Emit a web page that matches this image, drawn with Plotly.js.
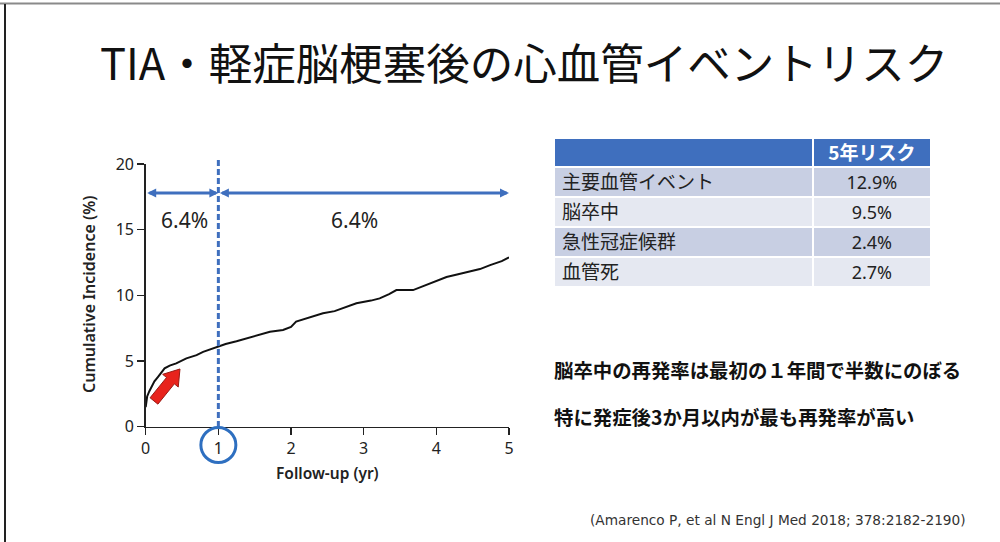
<!DOCTYPE html>
<html>
<head>
<meta charset="utf-8">
<script src="https://cdn.plot.ly/plotly-3.0.1.min.js"></script>
<style>html,body{margin:0;padding:0;background:#fff;}#chart{width:1000px;height:542px;}</style>
</head>
<body>
<div id="chart"></div>
<script>
// ---- data ----
const followUpYears = [0, 0.005, 0.02, 0.05, 0.08, 0.12, 0.17, 0.22, 0.26, 0.33, 0.42, 0.56, 0.7, 0.79, 0.9, 0.98, 1.1, 1.25, 1.4, 1.53, 1.71, 1.89, 2.0, 2.07, 2.25, 2.44, 2.6, 2.71, 2.9, 3.1, 3.22, 3.35, 3.45, 3.68, 3.8, 3.91, 4.14, 4.3, 4.46, 4.6, 4.74, 4.9, 5.0];
const cumulativeIncidence = [1.5, 1.9, 2.3, 2.7, 3.04, 3.45, 3.8, 4.15, 4.44, 4.65, 4.82, 5.2, 5.45, 5.7, 5.9, 6.09, 6.3, 6.5, 6.75, 6.98, 7.23, 7.36, 7.6, 8.0, 8.3, 8.63, 8.8, 9.0, 9.4, 9.6, 9.77, 10.1, 10.4, 10.4, 10.65, 10.9, 11.4, 11.6, 11.8, 12.0, 12.3, 12.6, 12.9];
const xTickVals = [0, 1, 2, 3, 4, 5];
const yTickVals = [0, 5, 10, 15, 20];
const periodBounds = [0, 1, 5];          // first year / years 1-5
const periodLabels = ["6.4%", "6.4%"];
const periodLabelX = [0.54, 2.88];
const periodLabelY = 15.7;
const periodArrowY = 17.8;
const highlightYear = 1;

const tableHeader = ["", "5年リスク"];
const tableEvents = ["主要血管イベント", "脳卒中", "急性冠症候群", "血管死"];
const tableRisk = ["12.9%", "9.5%", "2.4%", "2.7%"];

const titleText = "TIA・軽症脳梗塞後の心血管イベントリスク";
const yTitle = "Cumulative Incidence (%)";
const xTitle = "Follow-up (yr)";
const noteLines = ["脳卒中の再発率は最初の１年間で半数にのぼる", "特に発症後3か月以内が最も再発率が高い"];
const citation = "(Amarenco P, et al N Engl J Med 2018; 378:2182-2190)";

// ---- layout helpers (pixel -> paper, margins are 0) ----
const W = 1000, H = 542;
const px = v => v / W;
const py = v => 1 - v / H;
const BLUE = "#3f6fbe";
const JP = "'Noto Sans CJK JP', 'Noto Sans', sans-serif";
const LAT = "'Noto Sans', 'Open Sans', sans-serif";

const curve = {
  type: "scatter", mode: "lines",
  x: followUpYears, y: cumulativeIncidence,
  line: {color: "#111", width: 2},
  hoverinfo: "skip", showlegend: false, xaxis: "x", yaxis: "y"
};

const rowFill = tableEvents.map((_, i) => i % 2 === 0 ? "#c8cfe3" : "#e5e8f1");
const table = {
  type: "table",
  domain: {x: [px(554), px(931)], y: [py(289), py(138)]},
  columnwidth: [258, 118],
  header: {
    values: tableHeader,
    fill: {color: BLUE},
    line: {color: "#ffffff", width: 2},
    align: ["left", "center"],
    font: {family: JP, size: 19, color: "#ffffff", weight: "bold"},
    height: 29
  },
  cells: {
    values: [tableEvents, tableRisk],
    fill: {color: [rowFill, rowFill]},
    line: {color: "#ffffff", width: 2},
    align: ["left", "center"],
    font: {family: [JP, LAT], size: [19, 18], color: "#222"},
    height: 30
  }
};

const annotations = [
  {text: titleText, xref: "paper", yref: "paper", x: px(524), y: py(61), xanchor: "center", yanchor: "middle",
   showarrow: false, font: {family: JP, size: 43.5, color: "#111"}},
  {text: yTitle, xref: "paper", yref: "paper", x: px(89), y: py(295), textangle: -90, xanchor: "center", yanchor: "middle",
   showarrow: false, font: {family: LAT, size: 16, color: "#222", weight: 600}},
  {text: xTitle, xref: "paper", yref: "paper", x: px(327), y: py(473), xanchor: "center", yanchor: "middle",
   showarrow: false, font: {family: LAT, size: 15.5, color: "#222", weight: 600}},
  {text: noteLines[0], xref: "paper", yref: "paper", x: px(552), y: py(369), xanchor: "left", yanchor: "middle",
   showarrow: false, font: {family: JP, size: 19.4, color: "#111", weight: "bold"}},
  {text: noteLines[1], xref: "paper", yref: "paper", x: px(552), y: py(416), xanchor: "left", yanchor: "middle",
   showarrow: false, font: {family: JP, size: 19.4, color: "#111", weight: "bold"}},
  {text: citation, xref: "paper", yref: "paper", x: px(588), y: py(520), xanchor: "left", yanchor: "middle",
   showarrow: false, font: {family: "'DejaVu Sans', sans-serif", size: 13.7, color: "#333"}}
];
periodLabels.forEach((t, i) => annotations.push({
  text: t, xref: "x", yref: "y", x: periodLabelX[i], y: periodLabelY, xanchor: "center", yanchor: "middle",
  showarrow: false, font: {family: LAT, size: 21, color: "#222"}
}));
for (let i = 0; i < periodBounds.length - 1; i++) {
  annotations.push({
    text: "", xref: "x", yref: "y", axref: "x", ayref: "y",
    x: periodBounds[i + 1], y: periodArrowY, ax: periodBounds[i], ay: periodArrowY,
    showarrow: true, arrowside: "end+start", arrowhead: 2, startarrowhead: 2,
    arrowsize: 0.6, startarrowsize: 0.6, arrowwidth: 3, arrowcolor: BLUE, standoff: 0, startstandoff: 0
  });
}

// red arrow pointing at the early rise (pixel path anchored at data point)
const redArrowAnchor = {x: 0.114, y: 1.96};
const shapes = [
  // slide frame
  {type: "line", xref: "paper", yref: "paper", x0: 0, x1: 1, y0: py(3.5), y1: py(3.5), line: {color: "#8a8a8a", width: 2}},
  {type: "line", xref: "paper", yref: "paper", x0: px(5), x1: px(5), y0: py(4), y1: 0, line: {color: "#222", width: 2}},
  // dashed 1-year line
  {type: "line", xref: "x", yref: "paper", x0: highlightYear, x1: highlightYear, y0: py(427), y1: py(159),
   line: {color: BLUE, width: 3, dash: "6px,3px"}},
  // circle around tick "1"
  {type: "circle", xref: "x", yref: "paper", xsizemode: "pixel", ysizemode: "pixel",
   xanchor: highlightYear, yanchor: py(445), x0: -17.5, x1: 17.5, y0: -17.5, y1: 17.5,
   line: {color: "#2e6fc0", width: 3}},
  // red arrow
  {type: "path", xref: "x", yref: "y", xsizemode: "pixel", ysizemode: "pixel",
   xanchor: redArrowAnchor.x, yanchor: redArrowAnchor.y,
   path: "M -3.9,3.17 L 12.58,23.45 L 8.68,26.62 L 25.99,31.98 L 24.28,13.94 L 20.38,17.11 L 3.9,-3.17 Z",
   fillcolor: "#e8231c", line: {color: "#9a1a14", width: 1}}
];

const layout = {
  width: W, height: H,
  margin: {l: 0, r: 0, t: 0, b: 0},
  paper_bgcolor: "#ffffff", plot_bgcolor: "rgba(0,0,0,0)",
  showlegend: false,
  xaxis: {domain: [px(145.7), px(509)], range: [0, 5], tickvals: xTickVals, showgrid: false, zeroline: false,
    showline: true, linecolor: "#222", linewidth: 1.5, ticks: "outside", ticklen: 7, tickwidth: 1.5, tickcolor: "#222",
    tickfont: {family: LAT, size: 16, color: "#222"}, fixedrange: true},
  yaxis: {domain: [py(426.7), py(164)], range: [0, 20], tickvals: yTickVals, showgrid: false, zeroline: false,
    showline: true, linecolor: "#222", linewidth: 1.5, ticks: "outside", ticklen: 7, tickwidth: 1.5, tickcolor: "#222",
    tickfont: {family: LAT, size: 16, color: "#222"}, fixedrange: true},
  annotations: annotations,
  shapes: shapes
};

Plotly.newPlot("chart", [curve, table], layout, {displayModeBar: false, staticPlot: true});
</script>
</body>
</html>
